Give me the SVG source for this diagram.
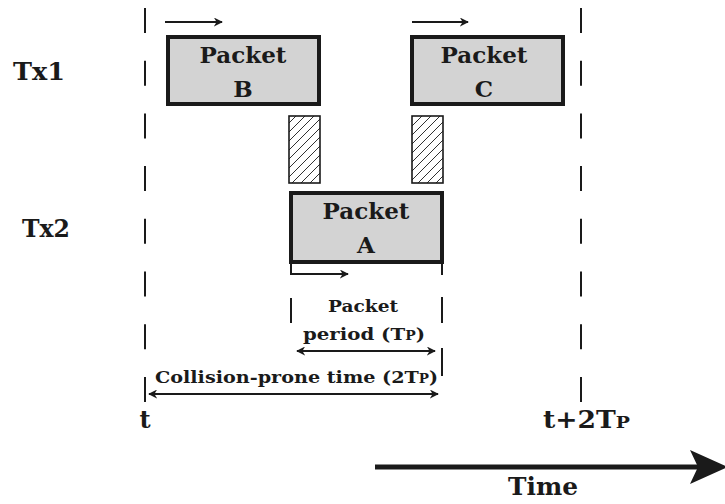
<svg xmlns="http://www.w3.org/2000/svg" width="725" height="504" viewBox="0 0 725 504">
<style>
text{font-family:"DejaVu Serif","Liberation Serif",serif;font-weight:bold;fill:#1a1a1a}
.big{font-size:23px}
.lbl{font-size:24px}
.sm{font-size:17px}
.pk{fill:#d3d3d3;stroke:#1a1a1a;stroke-width:4}
.hb{fill:url(#hatch);stroke:#1a1a1a;stroke-width:1.6}
.dash{stroke:#1a1a1a;stroke-width:2;fill:none}
.arr{stroke:#1a1a1a;stroke-width:1.8;fill:none}
.sc{font-variant:small-caps}
</style>
<defs>
<pattern id="hatch" width="9" height="9" patternUnits="userSpaceOnUse" x="288" y="115">
<rect width="9" height="9" fill="#fff"/>
<path d="M0,9 L9,0 M-1,1 L1,-1 M8,10 L10,8" stroke="#1a1a1a" stroke-width="0.9"/>
</pattern>
<marker id="ah" viewBox="0 0 10 10" refX="9" refY="5" markerWidth="5" markerHeight="5" orient="auto-start-reverse" markerUnits="strokeWidth">
<path d="M0,0 L10,5 L0,10 L3,5 Z" fill="#1a1a1a"/>
</marker>
</defs>

<g id="tx1-label"><text class="lbl" x="13" y="80" textLength="52" lengthAdjust="spacingAndGlyphs">Tx1</text></g>
<g id="tx2-label"><text class="lbl" x="22" y="237" textLength="48" lengthAdjust="spacingAndGlyphs">Tx2</text></g>

<g id="packet-b">
<rect class="pk" x="168" y="37" width="151" height="67"/>
<text class="big" x="243" y="63" text-anchor="middle">Packet</text>
<text class="big" x="243" y="97" text-anchor="middle">B</text>
</g>
<g id="packet-c">
<rect class="pk" x="412" y="37" width="151" height="67"/>
<text class="big" x="484" y="63" text-anchor="middle">Packet</text>
<text class="big" x="484" y="97" text-anchor="middle">C</text>
</g>
<g id="guard-1"><rect class="hb" x="289" y="116" width="31" height="67"/></g>
<g id="guard-2"><rect class="hb" x="412" y="116" width="31" height="67"/></g>
<g id="packet-a">
<rect class="pk" x="291" y="193" width="151" height="69"/>
<text class="big" x="366" y="219" text-anchor="middle">Packet</text>
<text class="big" x="366" y="253" text-anchor="middle">A</text>
</g>

<g id="connectors">
<line class="dash" x1="145" y1="8" x2="145" y2="403" stroke-dasharray="25 27.7"/>
<line class="dash" x1="581" y1="8" x2="581" y2="403" stroke-dasharray="25 27.7"/>
<path class="dash" d="M291,262 V275 M291,298 V323 M442,262 V275 M442,297 V323 M442,348 V376"/>
<line class="arr" x1="165" y1="22" x2="222" y2="22" marker-end="url(#ah)"/>
<line class="arr" x1="412" y1="22" x2="468" y2="22" marker-end="url(#ah)"/>
<line class="arr" x1="292" y1="274" x2="348" y2="274" marker-end="url(#ah)"/>
<line class="arr" x1="297" y1="351" x2="435" y2="351" marker-start="url(#ah)" marker-end="url(#ah)"/>
<line class="arr" x1="149" y1="394" x2="438" y2="394" marker-start="url(#ah)" marker-end="url(#ah)"/>
<line x1="375" y1="467" x2="700" y2="467" stroke="#1a1a1a" stroke-width="5"/>
<polygon points="690,450 728,467 690,484 698,467" fill="#1a1a1a"/>
</g>

<g id="period-label">
<text class="sm" x="328" y="312" textLength="70" lengthAdjust="spacingAndGlyphs">Packet</text>
<text class="sm" x="303" y="340" textLength="122" lengthAdjust="spacingAndGlyphs">period (T<tspan class="sc">p</tspan>)</text>
</g>
<g id="collision-label">
<text class="sm" x="155" y="383" textLength="283" lengthAdjust="spacingAndGlyphs">Collision-prone time (2T<tspan class="sc">p</tspan>)</text>
</g>
<g id="t-label"><text class="lbl" x="145" y="428" text-anchor="middle">t</text></g>
<g id="t2-label"><text class="lbl" x="543" y="428" textLength="87" lengthAdjust="spacingAndGlyphs">t+2T<tspan class="sc">p</tspan></text></g>
<g id="time-label"><text class="lbl" x="508" y="495" textLength="70" lengthAdjust="spacingAndGlyphs">Time</text></g>
</svg>
